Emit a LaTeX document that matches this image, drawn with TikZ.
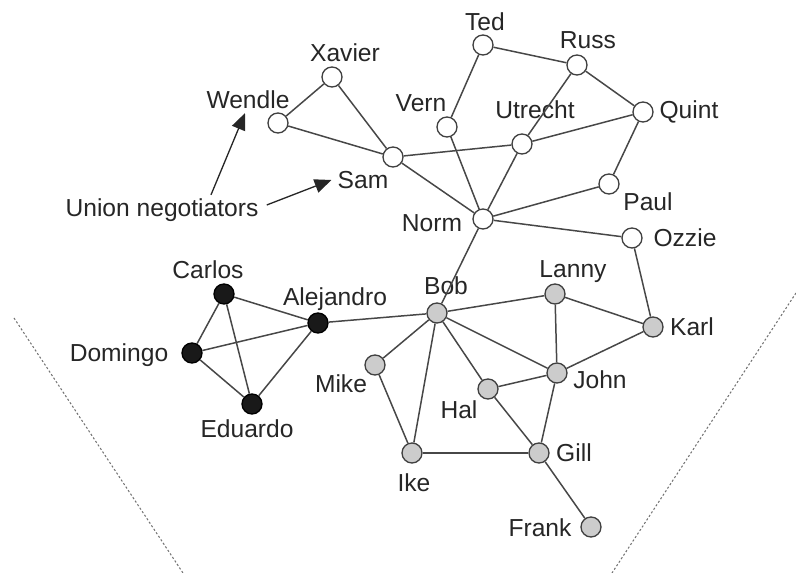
\documentclass[tikz,border=0pt]{standalone}
\usepackage{fontspec}
\setmainfont{Liberation Sans}
\usepackage{tikz}
\usetikzlibrary{arrows.meta,positioning}
\tikzstyle{person} = [circle, minimum size=0.4cm, inner sep=0pt, draw=black!75, line width=0.75pt, fill=white]
\tikzstyle{greyperson} = [person, fill=black!20]
\tikzstyle{darkperson} = [person, fill=black!90, draw=black]
\tikzstyle{tag} = [inner sep=0pt, text height=10pt, text depth=0pt, font=\fontsize{14}{16}\selectfont, text=black!85]
\tikzstyle{tie} = [line width=0.85pt, draw=black!72]
\tikzstyle{arrow} = [line width=0.75pt, draw=black!85, -{Triangle[length=9.5pt,width=8pt]}]
\tikzstyle{border} = [line width=0.6pt, draw=black!55, dash pattern=on 1.2pt off 1.2pt]

\begin{document}
\begin{tikzpicture}[x=0.02cm, y=-0.02cm]
\useasboundingbox (0,0) rectangle (796,573);

% Gruppe oben: weisse Knoten
\node (xavier) [person] at (332,77) {};
\node (wendle) [person] at (278,123) {};
\node (sam) [person] at (393,157) {};
\node (ted) [person] at (483,45) {};
\node (russ) [person] at (577,65) {};
\node (vern) [person] at (447,127) {};
\node (utrecht) [person] at (522,144) {};
\node (quint) [person] at (643,112) {};
\node (paul) [person] at (609,184) {};
\node (norm) [person] at (483,219) {};
\node (ozzie) [person] at (632,238) {};

% Gruppe links: schwarze Knoten
\node (carlos) [darkperson] at (224,294) {};
\node (alejandro) [darkperson] at (318,323) {};
\node (domingo) [darkperson] at (192,353) {};
\node (eduardo) [darkperson] at (252,404) {};

% Gruppe unten: graue Knoten
\node (bob) [greyperson] at (437,313) {};
\node (lanny) [greyperson] at (555,294) {};
\node (karl) [greyperson] at (653,327) {};
\node (mike) [greyperson] at (375,365) {};
\node (john) [greyperson] at (557,373) {};
\node (hal) [greyperson] at (488,389) {};
\node (ike) [greyperson] at (412,453) {};
\node (gill) [greyperson] at (539,453) {};
\node (frank) [greyperson] at (591,527) {};

% Namen
\node (xaviertxt) [tag] at (345,53) {Xavier};
\node (wendletxt) [tag] at (248,100) {Wendle};
\node (samtxt) [tag] at (363,180) {Sam};
\node (tedtxt) [tag] at (485,22) {Ted};
\node (russtxt) [tag] at (588,40) {Russ};
\node (verntxt) [tag] at (421,103) {Vern};
\node (utrechttxt) [tag] at (535,110) {Utrecht};
\node (quinttxt) [tag] at (689,110) {Quint};
\node (paultxt) [tag] at (648,202) {Paul};
\node (normtxt) [tag] at (432,223) {Norm};
\node (ozzietxt) [tag] at (685,238) {Ozzie};
\node (carlostxt) [tag] at (208,270) {Carlos};
\node (alejandrotxt) [tag] at (335,297) {Alejandro};
\node (domingotxt) [tag] at (119,353) {Domingo};
\node (eduardotxt) [tag] at (247,429) {Eduardo};
\node (bobtxt) [tag] at (446,286) {Bob};
\node (lannytxt) [tag] at (573,269) {Lanny};
\node (karltxt) [tag] at (692,327) {Karl};
\node (miketxt) [tag] at (341,384) {Mike};
\node (johntxt) [tag] at (600,380) {John};
\node (haltxt) [tag] at (459,410) {Hal};
\node (iketxt) [tag] at (414,483) {Ike};
\node (gilltxt) [tag] at (574,453) {Gill};
\node (franktxt) [tag] at (540,528) {Frank};
\node (union) [tag] at (162,208) {Union negotiators};

% Pfeile
\draw [arrow] ([xshift=0.98cm,yshift=0.08cm]union.north) -- ([xshift=-0.06cm,yshift=-0.08cm]wendletxt.south);
\draw [arrow] ([xshift=0.16cm,yshift=0.06cm]union.east) -- ([xshift=-0.12cm]samtxt.west);

% Kanten oben
\draw [tie] (xavier) -- (wendle);
\draw [tie] (xavier) -- (sam);
\draw [tie] (wendle) -- (sam);
\draw [tie] (sam) -- (utrecht);
\draw [tie] (utrecht) -- (quint);
\draw [tie] (sam) -- (norm);
\draw [tie] (ted) -- (russ);
\draw [tie] (ted) -- (vern);
\draw [tie] (russ) -- (quint);
\draw [tie] (russ) -- (utrecht);
\draw [tie] (vern) -- (norm);
\draw [tie] (utrecht) -- (norm);
\draw [tie] (quint) -- (paul);
\draw [tie] (paul) -- (norm);
\draw [tie] (norm) -- (ozzie);
\draw [tie] (norm) -- (bob);
\draw [tie] (ozzie) -- (karl);

% Kanten links
\draw [tie] (carlos) -- (alejandro);
\draw [tie] (carlos) -- (domingo);
\draw [tie] (carlos) -- (eduardo);
\draw [tie] (domingo) -- (alejandro);
\draw [tie] (domingo) -- (eduardo);
\draw [tie] (eduardo) -- (alejandro);
\draw [tie] (alejandro) -- (bob);

% Kanten unten
\draw [tie] (bob) -- (lanny);
\draw [tie] (bob) -- (mike);
\draw [tie] (bob) -- (ike);
\draw [tie] (bob) -- (hal);
\draw [tie] (bob) -- (john);
\draw [tie] (lanny) -- (john);
\draw [tie] (lanny) -- (karl);
\draw [tie] (karl) -- (john);
\draw [tie] (hal) -- (john);
\draw [tie] (hal) -- (gill);
\draw [tie] (john) -- (gill);
\draw [tie] (mike) -- (ike);
\draw [tie] (ike) -- (gill);
\draw [tie] (gill) -- (frank);

% Trennlinien
\draw [border] (14,318) -- (183,573);
\draw [border] (796,293) -- (612,573);

\end{tikzpicture}
\end{document}
